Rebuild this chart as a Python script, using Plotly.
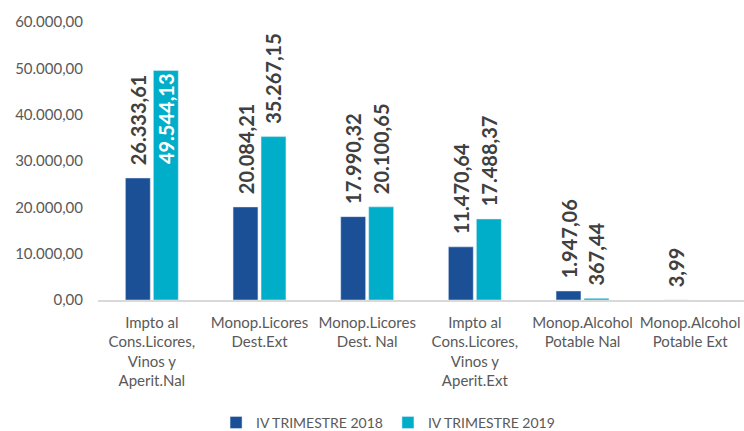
import plotly.graph_objects as go

categories = [
    "Impto al<br>Cons.Licores,<br>Vinos y<br>Aperit.Nal",
    "Monop.Licores<br>Dest.Ext",
    "Monop.Licores<br>Dest. Nal",
    "Impto al<br>Cons.Licores,<br>Vinos y<br>Aperit.Ext",
    "Monop.Alcohol<br>Potable Nal",
    "Monop.Alcohol<br>Potable Ext",
]
series_names = ["IV TRIMESTRE 2018", "IV TRIMESTRE 2019"]
values_2018 = [26333.61, 20084.21, 17990.32, 11470.64, 1947.06, 3.99]
values_2019 = [49544.13, 35267.15, 20100.65, 17488.37, 367.44, None]
y_ticks = [0, 10000, 20000, 30000, 40000, 50000, 60000]

FONT = "Lato"
colors = ["#1B4F96", "#00AECA"]
LBL = 20

fig = go.Figure()

pos18 = ["outside"] * len(values_2018)
pos19 = ["inside" if (v is not None and v > 45000) else "outside" for v in values_2019]

fig.add_trace(go.Bar(
    x=categories, y=values_2018, name=series_names[0],
    marker=dict(color=colors[0]),
    texttemplate="\u00a0\u00a0%{y:,.2f}",
    textposition=pos18, textangle=-90,
    textfont=dict(family=FONT, size=LBL, color="#404040", weight="bold"),
    constraintext="none", cliponaxis=False,
))
fig.add_trace(go.Bar(
    x=categories, y=values_2019, name=series_names[1],
    marker=dict(color=colors[1]),
    texttemplate=["%{y:,.2f}" if p == "inside" else "\u00a0\u00a0%{y:,.2f}" for p in pos19],
    textposition=pos19, textangle=-90,
    insidetextanchor="end",
    insidetextfont=dict(family=FONT, size=LBL, color="white", weight="bold"),
    outsidetextfont=dict(family=FONT, size=LBL, color="#404040", weight="bold"),
    constraintext="none", cliponaxis=False,
))

fig.update_layout(
    width=744, height=431,
    margin=dict(l=98, r=0, t=22, b=131, autoexpand=False),
    paper_bgcolor="white", plot_bgcolor="white",
    separators=",.",
    barmode="group", bargap=0.48, bargroupgap=0.11,
    font=dict(family=FONT, size=15, color="#595959"),
    showlegend=True,
    legend=dict(orientation="h", x=0.449, xanchor="center", y=-0.442, yanchor="middle",
                font=dict(family=FONT, size=14, color="#595959"), itemwidth=30,
                traceorder="normal"),
    xaxis=dict(showline=True, linecolor="#D9D9D9", linewidth=1.5, tickangle=0,
               ticks="", showgrid=False, automargin=False, ticklabelstandoff=8,
               tickfont=dict(size=15, color="#595959")),
    yaxis=dict(range=[0, 60000], tickvals=y_ticks, tickformat=",.2f",
               showgrid=False, zeroline=False, showline=False, ticks="",
               ticklabelstandoff=14, automargin=False,
               tickfont=dict(size=15, color="#595959")),
)

fig.write_html("out.html", config={"displayModeBar": False},
               post_script="document.body.style.margin='0';document.body.style.overflow='hidden';")
